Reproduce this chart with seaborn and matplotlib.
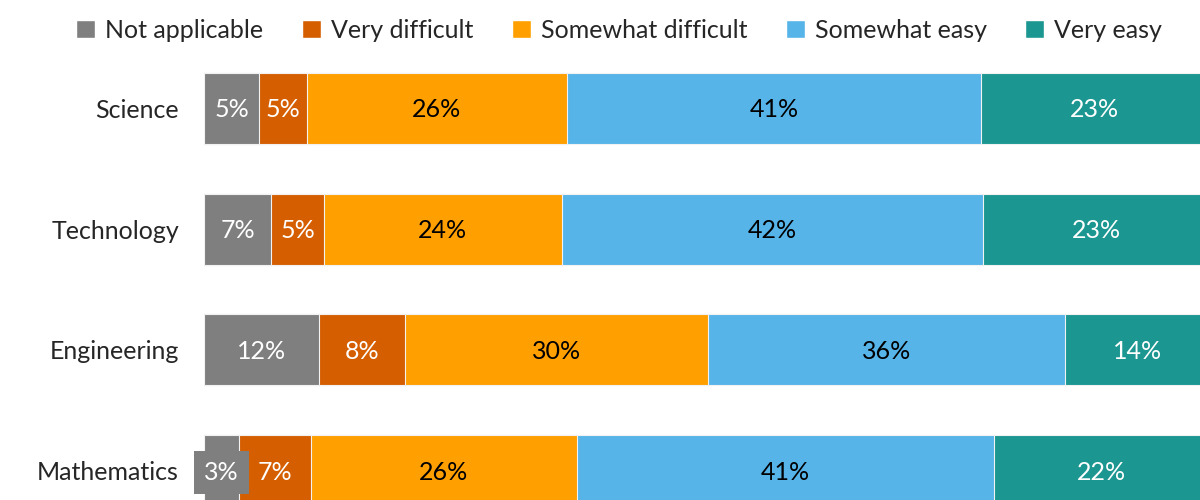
import matplotlib
matplotlib.use("Agg")
import matplotlib.pyplot as plt
from matplotlib.patches import Patch
import numpy as np
import pandas as pd
import seaborn as sns

subjects = ["Science", "Technology", "Engineering", "Mathematics"]
responses = ["Not applicable", "Very difficult", "Somewhat difficult", "Somewhat easy", "Very easy"]

# segment widths (percent)
not_applicable = [5.5, 6.7, 11.4, 3.5]
very_difficult = [4.7, 5.2, 8.6, 7.1]
somewhat_difficult = [25.9, 23.7, 30.1, 26.5]
somewhat_easy = [41.2, 41.9, 35.6, 41.5]
very_easy = [22.7, 22.5, 14.3, 21.4]

# labels as printed on the chart
label_text = [
    ["5%", "5%", "26%", "41%", "23%"],
    ["7%", "5%", "24%", "42%", "23%"],
    ["12%", "8%", "30%", "36%", "14%"],
    ["3%", "7%", "26%", "41%", "22%"],
]

colors = ["#7F7F7F", "#D55E00", "#FF9F00", "#56B4E9", "#1B9690"]
text_colors = ["white", "white", "black", "black", "white"]

sns.set_style("white")
plt.rcParams["font.family"] = ["Lato", "DejaVu Sans"]

df = pd.DataFrame({
    "subject": subjects,
    responses[0]: not_applicable,
    responses[1]: very_difficult,
    responses[2]: somewhat_difficult,
    responses[3]: somewhat_easy,
    responses[4]: very_easy,
})
cum = df[responses].cumsum(axis=1)

fig = plt.figure(figsize=(12, 5), dpi=100)
ax = fig.add_axes([204 / 1200, 0, 1005 / 1200, 1])

# draw cumulative totals from the right so earlier segments sit on top
for i in range(len(responses) - 1, -1, -1):
    sns.barplot(x=cum[responses[i]], y=df["subject"], orient="h", color=colors[i],
                width=0.587, edgecolor="#f2f2f2", linewidth=0.8, ax=ax, saturation=1)

for r, subj in enumerate(subjects):
    for i, resp in enumerate(responses):
        right = cum.loc[r, resp]
        left = right - df.loc[r, resp]
        kw = {}
        if r == 3 and i == 0:
            kw["bbox"] = dict(boxstyle="square,pad=0.4", fc=colors[0], ec="none")
        ax.text((left + right) / 2, r + 0.01, label_text[r][i], ha="center", va="center",
                color=text_colors[i], fontsize=18, **kw)

ax.set_xlim(0, 100)
ax.set_ylim(3.24, -0.893)
ax.set_xlabel("")
ax.set_ylabel("")
ax.set_xticks([])
ax.tick_params(axis="y", length=0, pad=18, labelsize=18)
for s in ax.spines.values():
    s.set_visible(False)

handles = [Patch(facecolor=c, label=l) for c, l in zip(colors, responses)]
fig.legend(handles=handles, loc="center", bbox_to_anchor=(0.516, 0.94), ncol=5,
           frameon=False, fontsize=18, handlelength=0.75, handleheight=0.75,
           handletextpad=0.4, columnspacing=1.55)

fig.savefig("out.png", dpi=100)
